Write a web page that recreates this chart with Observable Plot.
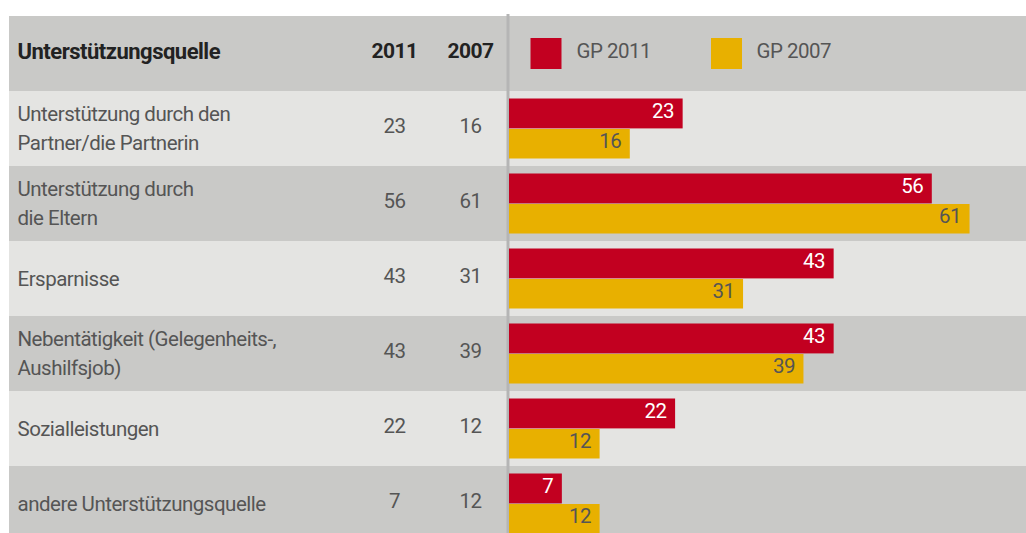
<!DOCTYPE html>
<html>
<head>
<meta charset="utf-8">
<script src="https://cdn.jsdelivr.net/npm/d3@7"></script>
<script src="https://cdn.jsdelivr.net/npm/@observablehq/plot@0.6"></script>
<style>
  html, body { margin: 0; padding: 0; background: #fff; }
  #chart svg { display: block; }
</style>
</head>
<body>
<div id="chart"></div>
<script>
// ---- data ----
const headerTitle = "Unterstützungsquelle";
const years = ["2011", "2007"];
const categories = [
  "Unterstützung durch den\nPartner/die Partnerin",
  "Unterstützung durch\ndie Eltern",
  "Ersparnisse",
  "Nebentätigkeit (Gelegenheits-,\nAushilfsjob)",
  "Sozialleistungen",
  "andere Unterstützungsquelle"
];
const values2011 = [23, 56, 43, 43, 22, 7];
const values2007 = [16, 61, 31, 39, 12, 12];
const seriesLabels = ["GP 2011", "GP 2007"];
const seriesColors = ["#c20020", "#e8b000"];

// ---- derived tables ----
const HEADER = "__header";
const rows = categories.map((c, i) => ({cat: c, v2011: values2011[i], v2007: values2007[i], i}));
const bg = [{cat: HEADER, shade: "dark"}, ...rows.map((r, i) => ({cat: r.cat, shade: i % 2 === 0 ? "light" : "dark"}))];

const font = "Roboto, 'Liberation Sans', sans-serif";
const fs = 20.5;
const rowH = 75.6;
const up = -2.5; // vertical text nudge

const chart = Plot.plot({
  width: 1026,
  height: 533,
  marginLeft: 9,
  marginRight: 0,
  marginTop: 14,
  marginBottom: 0,
  style: {fontFamily: font, background: "#fff", letterSpacing: "-0.5px"},
  x: {domain: [0, 68], range: [509, 509 + 68 * 7.55], axis: null},
  y: {domain: [HEADER, ...categories], range: [14, 14 + 7 * rowH], padding: 0, axis: null},
  marks: [
    // row backgrounds
    Plot.cell(bg, {y: "cat", fill: d => d.shade === "light" ? "#e4e4e2" : "#c9c9c7", inset: 0}),
    // separator
    Plot.ruleX([0], {stroke: "#b5b5b5", strokeWidth: 3, dx: -1.5}),
    // bars
    Plot.barX(rows, {y: "cat", x1: 0, x2: "v2011", fill: seriesColors[0], insetTop: 7.5, insetBottom: rowH - 38}),
    Plot.barX(rows, {y: "cat", x1: 0, x2: "v2007", fill: seriesColors[1], insetTop: 38, insetBottom: 7.5}),
    // bar labels
    Plot.text(rows, {y: "cat", x: "v2011", text: d => String(d.v2011), textAnchor: "end", dx: -9, dy: -15.5 + up, fill: "#fff", fontSize: fs}),
    Plot.text(rows, {y: "cat", x: "v2007", text: d => String(d.v2007), textAnchor: "end", dx: -9, dy: 15 + up, fill: "#555", fontSize: fs}),
    // table: category labels
    Plot.text(rows, {y: "cat", text: "cat", frameAnchor: "left", textAnchor: "start", dx: 8, dy: up, fill: "#555", fontSize: fs, lineHeight: 1.415}),
    // table: value columns
    Plot.text(rows, {y: "cat", text: d => String(d.v2011), frameAnchor: "left", textAnchor: "middle", dx: 385, dy: up, fill: "#555", fontSize: fs}),
    Plot.text(rows, {y: "cat", text: d => String(d.v2007), frameAnchor: "left", textAnchor: "middle", dx: 461, dy: up, fill: "#555", fontSize: fs}),
    // header
    Plot.text([headerTitle], {y: () => HEADER, text: d => d, frameAnchor: "left", textAnchor: "start", dx: 8, dy: up, fill: "#222", fontSize: 22, fontWeight: "bold"}),
    Plot.text([years[0]], {y: () => HEADER, text: d => d, frameAnchor: "left", textAnchor: "middle", dx: 385, dy: up, fill: "#222", fontSize: 21, fontWeight: "bold"}),
    Plot.text([years[1]], {y: () => HEADER, text: d => d, frameAnchor: "left", textAnchor: "middle", dx: 461, dy: up, fill: "#222", fontSize: 21, fontWeight: "bold"}),
    // legend
    Plot.dot([0], {y: () => HEADER, x: () => 0, symbol: "square", r: 31 / Math.sqrt(Math.PI), fill: seriesColors[0], dx: 36.5, dy: -0.5}),
    Plot.text([seriesLabels[0]], {y: () => HEADER, x: () => 0, text: d => d, textAnchor: "start", dx: 67, dy: up, fill: "#555", fontSize: fs}),
    Plot.dot([0], {y: () => HEADER, x: () => 0, symbol: "square", r: 31 / Math.sqrt(Math.PI), fill: seriesColors[1], dx: 217, dy: -0.5}),
    Plot.text([seriesLabels[1]], {y: () => HEADER, x: () => 0, text: d => d, textAnchor: "start", dx: 247, dy: up, fill: "#555", fontSize: fs})
  ]
});
document.getElementById("chart").appendChild(chart);
</script>
</body>
</html>
